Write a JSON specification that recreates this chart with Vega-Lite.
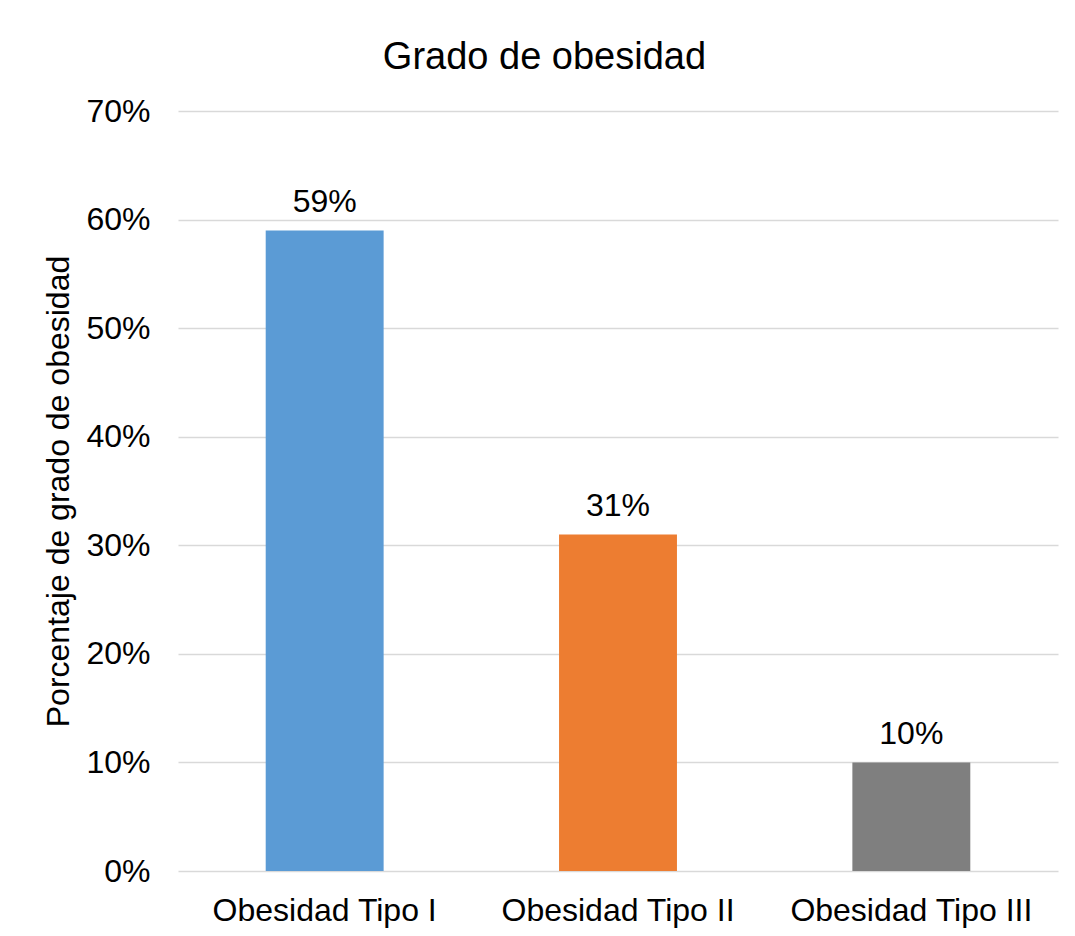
{
  "$schema": "https://vega.github.io/schema/vega-lite/v6.json",
  "width": 880,
  "height": 760,
  "autosize": {"type": "none"},
  "padding": {"left": 178, "top": 111, "right": 17, "bottom": 65},
  "background": "white",
  "title": {
    "text": "Grado de obesidad",
    "font": "Liberation Sans",
    "fontSize": 38,
    "fontWeight": "normal",
    "color": "#000000",
    "anchor": "middle",
    "frame": "bounds",
    "baseline": "alphabetic",
    "dx": -6,
    "offset": -12
  },
  "data": {
    "values": [
      {"tipo": "Obesidad Tipo I", "pct": 0.59, "label": "59%"},
      {"tipo": "Obesidad Tipo II", "pct": 0.31, "label": "31%"},
      {"tipo": "Obesidad Tipo III", "pct": 0.10, "label": "10%"}
    ]
  },
  "config": {
    "view": {"stroke": null},
    "font": "Liberation Sans"
  },
  "encoding": {
    "x": {
      "field": "tipo",
      "type": "nominal",
      "sort": null,
      "scale": {"paddingInner": 0.598, "paddingOuter": 0.299},
      "axis": {
        "title": null,
        "labelAngle": 0,
        "labelFont": "Liberation Sans",
        "labelFontSize": 32,
        "labelColor": "#000000",
        "labelPadding": 24,
        "labelLimit": 0,
        "ticks": false,
        "tickSize": 0,
        "domain": false
      }
    },
    "y": {
      "field": "pct",
      "type": "quantitative",
      "scale": {"domain": [0, 0.7], "nice": false},
      "axis": {
        "title": "Porcentaje de grado de obesidad",
        "titleFont": "Liberation Sans",
        "titleFontSize": 32,
        "titleFontWeight": "normal",
        "titleColor": "#000000",
        "titlePadding": 10,
        "format": ".0%",
        "values": [0, 0.1, 0.2, 0.3, 0.4, 0.5, 0.6, 0.7],
        "labelFont": "Liberation Sans",
        "labelFontSize": 32,
        "labelColor": "#000000",
        "labelPadding": 28,
        "ticks": false,
        "tickSize": 0,
        "domain": false,
        "grid": true,
        "gridColor": "#d9d9d9",
        "gridWidth": 1.5
      }
    }
  },
  "layer": [
    {
      "mark": {"type": "bar"},
      "encoding": {
        "color": {
          "field": "tipo",
          "type": "nominal",
          "sort": null,
          "scale": {"range": ["#5B9BD5", "#ED7D31", "#7F7F7F"]},
          "legend": null
        }
      }
    },
    {
      "mark": {
        "type": "text",
        "baseline": "alphabetic",
        "dy": -18,
        "fontSize": 32,
        "font": "Liberation Sans",
        "color": "#000000"
      },
      "encoding": {"text": {"field": "label"}}
    }
  ]
}
